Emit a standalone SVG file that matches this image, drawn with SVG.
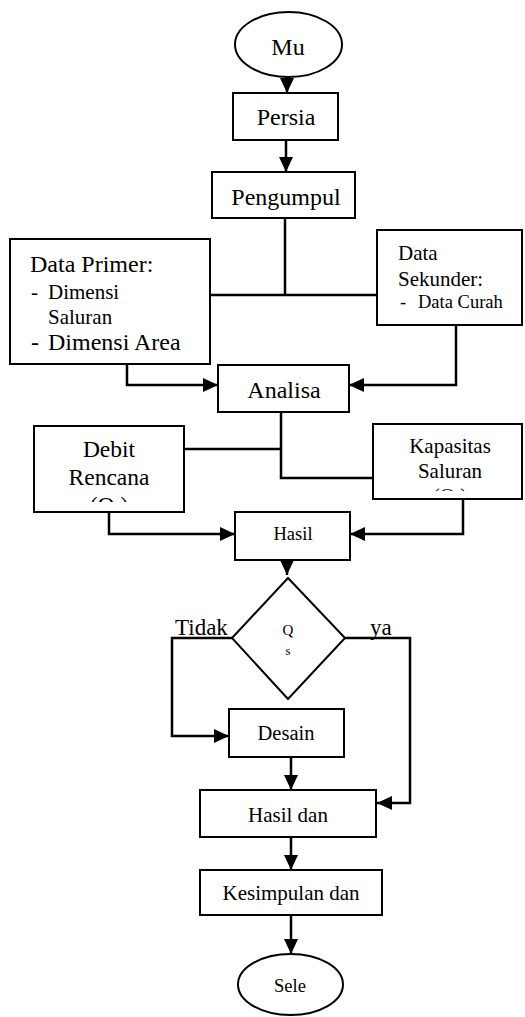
<svg xmlns="http://www.w3.org/2000/svg" width="525" height="1017" viewBox="0 0 525 1017">
<style>
.box{fill:#fff;stroke:#000;stroke-width:2}
.ln{fill:none;stroke:#000;stroke-width:2.5}
.t{fill:#000}
.c{text-anchor:middle}
</style>
<defs>
<marker id="ah" markerUnits="userSpaceOnUse" markerWidth="16" markerHeight="14" refX="15" refY="7" orient="auto">
<path d="M0,0 L15,7 L0,14 z" fill="#000"/>
</marker>
<clipPath id="cDebit"><rect x="34" y="426" width="150" height="76"/></clipPath>
<clipPath id="cKap"><rect x="373" y="424" width="149" height="67"/></clipPath>
</defs>
<rect width="525" height="1017" fill="#fff"/>
<g id="connectors">
<line class="ln" x1="287" y1="77" x2="287" y2="93" marker-end="url(#ah)"/>
<line class="ln" x1="286" y1="140" x2="286" y2="172" marker-end="url(#ah)"/>
<polyline class="ln" points="285,218 285,295"/>
<line class="ln" x1="210" y1="295" x2="377" y2="295"/>
<polyline class="ln" points="127,364 127,385 218,385" marker-end="url(#ah)"/>
<polyline class="ln" points="456,325 456,385 349,385" marker-end="url(#ah)"/>
<polyline class="ln" points="281,412 281,478 373,478"/>
<line class="ln" x1="184" y1="449" x2="281" y2="449"/>
<polyline class="ln" points="109,512 109,534 235,534" marker-end="url(#ah)"/>
<polyline class="ln" points="463,499 463,534 350,534" marker-end="url(#ah)"/>
<line class="ln" x1="287" y1="560" x2="287" y2="575" marker-end="url(#ah)"/>
<polyline class="ln" points="232,638 172,638 172,736 229,736" marker-end="url(#ah)"/>
<polyline class="ln" points="345,638 410,638 410,803 377,803" marker-end="url(#ah)"/>
<line class="ln" x1="291" y1="757" x2="291" y2="790" marker-end="url(#ah)"/>
<line class="ln" x1="291" y1="837" x2="291" y2="870" marker-end="url(#ah)"/>
<line class="ln" x1="291" y1="915" x2="291" y2="954" marker-end="url(#ah)"/>
</g>
<g font-family="'Liberation Serif', 'Times New Roman', 'DejaVu Serif', serif">
<g id="mu">
<ellipse class="box" cx="288.5" cy="44.5" rx="53.5" ry="32.5"/>
<text class="t c" x="288" y="55" font-size="24">Mu</text>
</g>
<g id="persia">
<rect class="box" x="233" y="93" width="105" height="47"/>
<text class="t c" x="286" y="125" font-size="24">Persia</text>
</g>
<g id="pengumpul">
<rect class="box" x="212" y="172" width="143" height="46"/>
<text class="t c" x="286" y="205" font-size="24">Pengumpul</text>
</g>
<g id="dataprimer">
<rect class="box" x="10" y="239" width="200" height="125"/>
<text class="t" x="30" y="272" font-size="24">Data Primer:</text>
<text class="t" x="31" y="299" font-size="21">-</text>
<text class="t" x="48" y="299" font-size="21">Dimensi</text>
<text class="t" x="48" y="324" font-size="21">Saluran</text>
<text class="t" x="31" y="350" font-size="24">-</text>
<text class="t" x="48" y="350" font-size="24">Dimensi Area</text>
</g>
<g id="datasekunder">
<rect class="box" x="377" y="230" width="145" height="95"/>
<text class="t" x="398" y="260" font-size="21">Data</text>
<text class="t" x="398" y="286" font-size="21">Sekunder:</text>
<text class="t" x="400" y="308" font-size="18.5">-</text>
<text class="t" x="418" y="308" font-size="18.5">Data Curah</text>
</g>
<g id="analisa">
<rect class="box" x="218" y="365" width="131" height="47"/>
<text class="t c" x="284" y="398" font-size="24">Analisa</text>
</g>
<g id="debit">
<rect class="box" x="34" y="426" width="150" height="86"/>
<text class="t c" x="109" y="457" font-size="23.5">Debit</text>
<text class="t c" x="109" y="485" font-size="23.5">Rencana</text>
<text class="t c" x="109" y="513" font-size="23.5" clip-path="url(#cDebit)">(Q )</text>
</g>
<g id="kapasitas">
<rect class="box" x="373" y="424" width="149" height="75"/>
<text class="t c" x="450" y="453" font-size="21">Kapasitas</text>
<text class="t c" x="450" y="478" font-size="21">Saluran</text>
<text class="t c" x="450" y="503" font-size="21" clip-path="url(#cKap)">(Q )</text>
</g>
<g id="hasil">
<rect class="box" x="235" y="512" width="115" height="48"/>
<text class="t c" x="293" y="540" font-size="18.5">Hasil</text>
</g>
<g id="decision">
<polygon class="box" points="288,578 345,638 288,699 232,638"/>
<text class="t c" x="288" y="635" font-size="15">Q</text>
<text class="t c" x="288" y="655" font-size="13">s</text>
<text class="t" x="175" y="635" font-size="23">Tidak</text>
<text class="t" x="370" y="635" font-size="23">ya</text>
</g>
<g id="desain">
<rect class="box" x="229" y="709" width="115" height="48"/>
<text class="t c" x="286" y="740" font-size="20.5">Desain</text>
</g>
<g id="hasildan">
<rect class="box" x="200" y="790" width="176" height="47"/>
<text class="t c" x="288" y="822" font-size="21">Hasil dan</text>
</g>
<g id="kesimpulan">
<rect class="box" x="200" y="870" width="182" height="45"/>
<text class="t c" x="291" y="900" font-size="21">Kesimpulan dan</text>
</g>
<g id="sele">
<ellipse class="box" cx="290.5" cy="984.5" rx="52.5" ry="30.5"/>
<text class="t c" x="290" y="992" font-size="18.5">Sele</text>
</g>
</g>
</svg>
